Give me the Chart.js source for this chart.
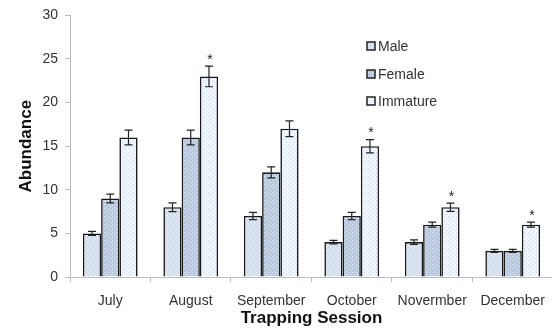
<!DOCTYPE html>
<html>
<head>
<meta charset="utf-8">
<script src="https://cdn.jsdelivr.net/npm/chart.js@4.4.1/dist/chart.umd.min.js"></script>
<style>
  html, body { margin: 0; padding: 0; background: #fff; overflow: hidden; }
  #wrap { width: 556px; height: 329px; }
</style>
</head>
<body>
<div id="wrap"><canvas id="c" width="556" height="329"></canvas></div>
<script>
// Trapping sessions and mean abundance per group
const sessions = ['July', 'August', 'September', 'October', 'Novermber', 'December'];
const male      = [5, 8, 7, 4, 4, 3];
const female    = [9, 16, 12, 7, 6, 3];
const immature  = [16, 23, 17, 15, 8, 6];
// Standard errors
const maleErr     = [0.23, 0.5, 0.42, 0.2, 0.25, 0.17];
const femaleErr   = [0.5, 0.85, 0.63, 0.42, 0.29, 0.17];
const immatureErr = [0.85, 1.18, 0.9, 0.76, 0.48, 0.29];
// Sessions where immature abundance differs significantly
const immatureSig = [false, true, false, true, true, true];
const yTicks = [0, 5, 10, 15, 20, 25, 30];

const FONT = '"Liberation Sans", Arial, sans-serif';

function makePattern(bg, dot, kind) {
  const p = document.createElement('canvas');
  p.width = 4; p.height = 4;
  const g = p.getContext('2d');
  g.fillStyle = bg; g.fillRect(0, 0, 4, 4);
  g.fillStyle = dot;
  if (kind === 'diag') {
    g.fillRect(0, 0, 1, 1); g.fillRect(1, 1, 1, 1); g.fillRect(2, 2, 1, 1); g.fillRect(3, 3, 1, 1);
  } else {
    g.fillRect(0, 0, 1, 1); g.fillRect(2, 2, 1, 1);
  }
  return document.getElementById('c').getContext('2d').createPattern(p, 'repeat');
}

const maleFill = makePattern('#d0deef', '#e8eef7', 'diag');
const femaleFill = makePattern('#b3caea', '#e8eff9', 'grid');
const immFill = makePattern('#f3f6fb', '#c8d5e8', 'dots');

const errors = [maleErr, femaleErr, immatureErr];

const errorBarPlugin = {
  id: 'errorBars',
  afterDatasetsDraw(chart) {
    const ctx = chart.ctx;
    const y = chart.scales.y;
    ctx.save();
    ctx.strokeStyle = '#222';
    ctx.lineWidth = 1.2;
    chart.data.datasets.forEach((ds, di) => {
      const meta = chart.getDatasetMeta(di);
      meta.data.forEach((bar, i) => {
        const v = ds.data[i], e = errors[di][i];
        const x = bar.x;
        const yt = y.getPixelForValue(v + e), yb = y.getPixelForValue(v - e);
        ctx.beginPath();
        ctx.moveTo(x, yt); ctx.lineTo(x, yb);
        ctx.moveTo(x - 4, yt); ctx.lineTo(x + 4, yt);
        ctx.moveTo(x - 4, yb); ctx.lineTo(x + 4, yb);
        ctx.stroke();
        if (di === 2 && immatureSig[i]) {
          ctx.fillStyle = '#222';
          ctx.font = '14px ' + FONT;
          ctx.textAlign = 'center';
          ctx.textBaseline = 'middle';
          ctx.fillText('*', x + 1, yt - 6);
        }
      });
    });
    ctx.restore();
  }
};

const legendPlugin = {
  id: 'boxLegend',
  afterDraw(chart) {
    const ctx = chart.ctx;
    const x0 = 367, ys = [46, 74, 101];
    ctx.save();
    chart.data.datasets.forEach((ds, i) => {
      ctx.fillStyle = ds.backgroundColor;
      ctx.fillRect(x0, ys[i] - 4, 8, 8);
      ctx.strokeStyle = '#222';
      ctx.lineWidth = 1.5;
      ctx.strokeRect(x0, ys[i] - 4, 8, 8);
      ctx.fillStyle = '#333';
      ctx.font = '14px ' + FONT;
      ctx.textAlign = 'left';
      ctx.textBaseline = 'middle';
      ctx.fillText(ds.label, x0 + 11, ys[i] + 1);
    });
    ctx.restore();
  }
};

new Chart(document.getElementById('c'), {
  type: 'bar',
  data: {
    labels: sessions,
    datasets: [
      { label: 'Male', data: male, backgroundColor: maleFill },
      { label: 'Female', data: female, backgroundColor: femaleFill },
      { label: 'Immature', data: immature, backgroundColor: immFill }
    ]
  },
  options: {
    responsive: false,
    animation: false,
    devicePixelRatio: 1,
    layout: { padding: { top: 15, right: 0, left: 0, bottom: 0 } },
    datasets: {
      bar: {
        borderColor: '#1a1a1a',
        borderWidth: 1.6,
        categoryPercentage: 0.68,
        barPercentage: 1.0
      }
    },
    plugins: {
      legend: { display: false },
      tooltip: { enabled: false }
    },
    scales: {
      x: {
        grid: { display: true, drawOnChartArea: false, drawTicks: true, tickLength: 5, color: '#bdbdbd', offset: true },
        border: { color: '#bdbdbd', width: 1 },
        ticks: { color: '#333', font: { family: FONT, size: 14 }, padding: 11, maxRotation: 0 },
        title: { display: true, text: 'Trapping Session', color: '#111', font: { family: FONT, size: 17, weight: 'bold' }, padding: { top: 0, bottom: 0 } },
        afterFit(s) { s.height = 52; }
      },
      y: {
        min: 0, max: 30,
        afterBuildTicks(s) { s.ticks = yTicks.map(v => ({ value: v })); },
        grid: { display: true, drawOnChartArea: false, drawTicks: true, tickLength: 5, color: '#bdbdbd' },
        border: { color: '#bdbdbd', width: 1 },
        ticks: { color: '#333', font: { family: FONT, size: 14 }, padding: 7 },
        title: { display: true, text: 'Abundance', color: '#111', font: { family: FONT, size: 17, weight: 'bold' }, padding: { top: 16, bottom: 4 } },
        afterFit(s) { s.width = 70; }
      }
    }
  },
  plugins: [errorBarPlugin, legendPlugin]
});
</script>
</body>
</html>
